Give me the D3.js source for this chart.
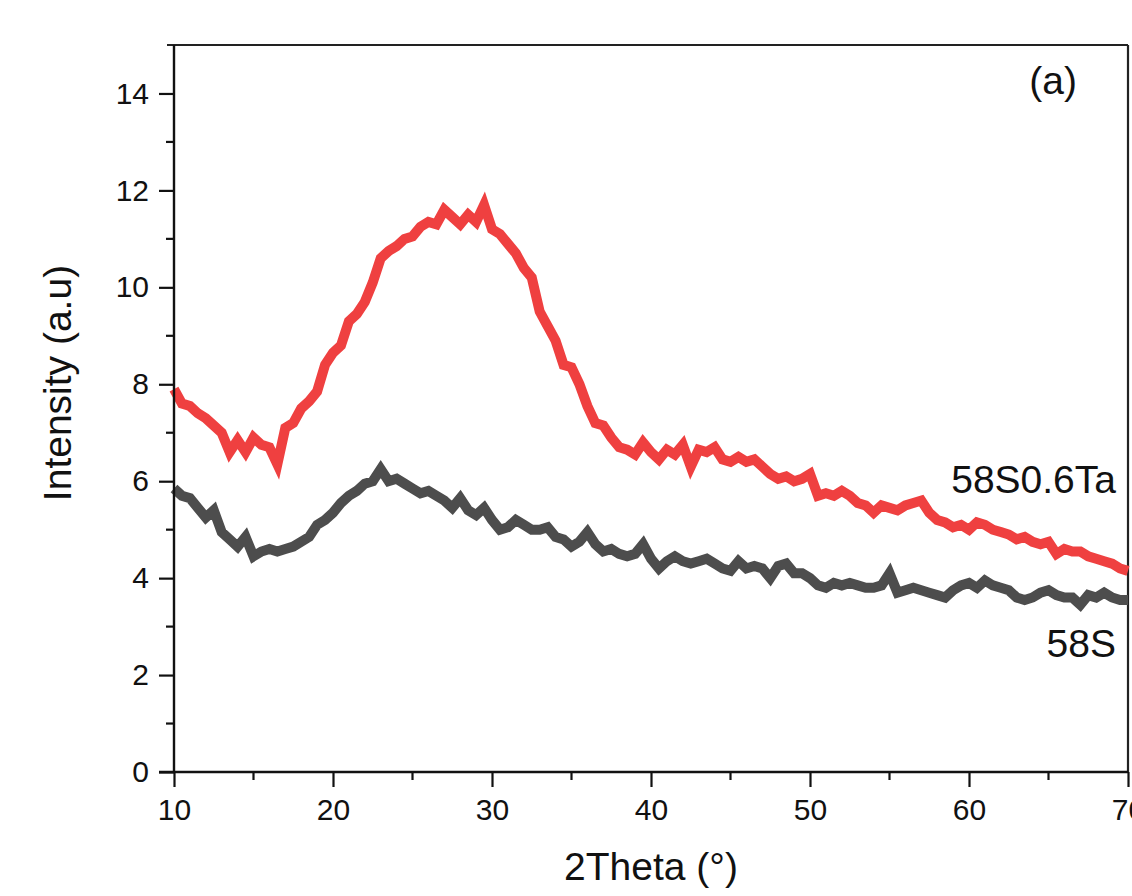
<!DOCTYPE html>
<html><head><meta charset="utf-8">
<script src="https://cdn.jsdelivr.net/npm/d3@7"></script>
<style>html,body{margin:0;padding:0;background:#fff;overflow:hidden}</style>
</head><body>
<svg id="c" width="1132" height="896"></svg>
<script>
const xStart = 10, xStep = 0.5;
const seriesNames = ["58S0.6Ta", "58S"];
const seriesColors = ["#ef4040", "#4d4d4d"];
const ta06 = [7.9,7.6,7.55,7.4,7.3,7.15,7.0,6.6,6.85,6.6,6.9,6.75,6.7,6.35,7.1,7.2,7.5,7.65,7.85,8.4,
8.65,8.8,9.3,9.45,9.7,10.1,10.6,10.75,10.85,11.0,11.05,11.25,11.35,11.3,11.6,11.45,11.3,11.5,11.35,11.7,
11.2,11.1,10.9,10.7,10.4,10.2,9.5,9.2,8.9,8.4,8.35,8.0,7.55,7.2,7.15,6.9,6.7,6.65,6.55,6.8,
6.6,6.45,6.65,6.55,6.75,6.3,6.65,6.6,6.7,6.45,6.4,6.5,6.4,6.45,6.3,6.15,6.05,6.1,6.0,6.05,
6.15,5.7,5.75,5.7,5.8,5.7,5.55,5.5,5.35,5.5,5.45,5.4,5.5,5.55,5.6,5.35,5.2,5.15,5.05,5.1,
5.0,5.15,5.1,5.0,4.95,4.9,4.8,4.85,4.75,4.7,4.75,4.5,4.6,4.55,4.55,4.45,4.4,4.35,4.3,4.2,4.15];
const s58 = [5.85,5.7,5.65,5.45,5.25,5.4,4.95,4.8,4.65,4.85,4.45,4.55,4.6,4.55,4.6,4.65,4.75,4.85,5.1,5.2,
5.35,5.55,5.7,5.8,5.95,6.0,6.25,6.0,6.05,5.95,5.85,5.75,5.8,5.7,5.6,5.45,5.65,5.4,5.3,5.45,
5.2,5.0,5.05,5.2,5.1,5.0,5.0,5.05,4.85,4.8,4.65,4.75,4.95,4.7,4.55,4.6,4.5,4.45,4.5,4.7,
4.4,4.2,4.35,4.45,4.35,4.3,4.35,4.4,4.3,4.2,4.15,4.35,4.2,4.25,4.2,4.0,4.25,4.3,4.1,4.1,
4.0,3.85,3.8,3.9,3.85,3.9,3.85,3.8,3.8,3.85,4.1,3.7,3.75,3.8,3.75,3.7,3.65,3.6,3.75,3.85,
3.9,3.8,3.95,3.85,3.8,3.75,3.6,3.55,3.6,3.7,3.75,3.65,3.6,3.6,3.45,3.65,3.6,3.7,3.6,3.55,3.55];
const xTicks = [10,20,30,40,50,60,70];
const yTicks = [0,2,4,6,8,10,12,14];

const svg = d3.select("#c");
const L = 174, R = 1128, T = 45, B = 772;
const x = d3.scaleLinear().domain([10,70]).range([L,R]);
const y = d3.scaleLinear().domain([0,15]).range([B,T]);
const font = "'Liberation Sans', Arial, sans-serif";

// frame (top & right)
svg.append("line").attr("x1",L-7).attr("x2",R).attr("y1",T).attr("y2",T).attr("stroke","#222").attr("stroke-width",2.2);
svg.append("line").attr("x1",R).attr("x2",R).attr("y1",T).attr("y2",B).attr("stroke","#222").attr("stroke-width",2.2);

// lines
const line = d3.line().x((d,i)=>x(xStart+i*xStep)).y(d=>y(d)).curve(d3.curveLinear);
[ta06, s58].forEach((arr,k)=>{
  svg.append("path").datum(arr).attr("d",line).attr("fill","none")
    .attr("stroke",seriesColors[k]).attr("stroke-width",10).attr("stroke-linejoin","miter").attr("stroke-linecap","butt");
});

// axes
const xAxis = d3.axisBottom(x).tickValues(xTicks).tickSize(15).tickPadding(12).tickFormat(d3.format("d"));
const gx = svg.append("g").attr("transform",`translate(0,${B})`).call(xAxis);
const xMinor = d3.range(15,70,10);
gx.selectAll(".minor").data(xMinor).enter().append("line").attr("class","minor")
  .attr("x1",d=>x(d)).attr("x2",d=>x(d)).attr("y1",0).attr("y2",8).attr("stroke","#111").attr("stroke-width",2.2);
const yAxis = d3.axisLeft(y).tickValues(yTicks).tickSize(15).tickPadding(10);
const gy = svg.append("g").attr("transform",`translate(${L},0)`).call(yAxis);
const yMinor = d3.range(1,15,2);
gy.selectAll(".minor").data(yMinor).enter().append("line").attr("class","minor")
  .attr("x1",0).attr("x2",-8).attr("y1",d=>y(d)).attr("y2",d=>y(d)).attr("stroke","#111").attr("stroke-width",2.2);
[gx,gy].forEach(g=>{
  g.select(".domain").attr("stroke","#111").attr("stroke-width",2.4);
  g.selectAll(".tick line").attr("stroke","#111").attr("stroke-width",2.2);
  g.selectAll(".tick text").attr("font-family",font).attr("font-size",30).attr("fill","#111");
});
gx.select(".domain").attr("d",`M${L-15},0H${R}`);
gy.select(".domain").attr("d",`M0,${B}V${T}`);

// axis titles
svg.append("text").attr("x",651).attr("y",880).attr("text-anchor","middle")
  .attr("font-family",font).attr("font-size",39).attr("fill","#111").text("2Theta (°)");
svg.append("text").attr("transform",`translate(71,383) rotate(-90)`).attr("text-anchor","middle")
  .attr("font-family",font).attr("font-size",39).attr("fill","#111").text("Intensity (a.u)");

// annotations
svg.append("text").attr("x",1077).attr("y",94).attr("text-anchor","end").attr("font-family",font).attr("font-size",39).attr("fill","#111").text("(a)");
svg.append("text").attr("x",1116).attr("y",493).attr("text-anchor","end").attr("font-family",font).attr("font-size",39).attr("fill","#111").text(seriesNames[0]);
svg.append("text").attr("x",1116).attr("y",657).attr("text-anchor","end").attr("font-family",font).attr("font-size",39).attr("fill","#111").text(seriesNames[1]);
</script>
</body></html>
